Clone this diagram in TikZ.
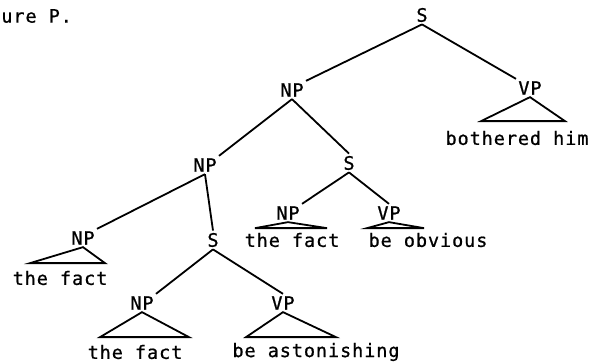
\documentclass[tikz,border=0pt]{standalone}
\usepackage{fontspec}
\usepackage{tikz}
\usetikzlibrary{positioning}
\newfontfamily\treefont{DejaVu Sans Mono}[LetterSpace=5,FakeBold=0.8]

\begin{document}
\begin{tikzpicture}[x=1pt,y=-1pt,line width=1.8pt,
  every node/.style={font=\treefont\fontsize{18.5}{20}\selectfont,inner sep=1.5pt}]

  \useasboundingbox (0,0) rectangle (595,364);

  % Caption
  \node (cap) at (-1,16) [anchor=west] {ure P.};

  % Categories
  \node (s1) at (422,15) {S};
  \node (np1) at (292,90) {NP};
  \node (vp1) at (530,88) {VP};
  \node (np2) at (205,165) {NP};
  \node (s2) at (349,163) {S};
  \node (np3) at (83,238) {NP};
  \node (s3) at (213,240) {S};
  \node (np4) at (288,213) {NP};
  \node (vp4) at (389,213) {VP};
  \node (np5) at (142,303) {NP};
  \node (vp5) at (283,303) {VP};

  % Branches
  \draw (s1.south) -- (np1.north east);
  \draw (s1.south) -- (vp1.north west);
  \draw (np1.south) -- (np2.north east);
  \draw (np1.south) -- (s2.north);
  \draw (np2.south) -- (np3.north east);
  \draw (np2.south) -- (s3.north);
  \draw (s2.south) -- (np4.north east);
  \draw (s2.south) -- (vp4.north);
  \draw (s3.south) -- (np5.north east);
  \draw (s3.south) -- (vp5.north);

  % Triangles
  \draw (vp1.south) -- ++(-49,24) -- ++(84,0) -- cycle;
  \draw (np3.south) -- ++(-53,16) -- ++(75,0) -- cycle;
  \draw (np4.south) -- ++(-33,6) -- ++(72,0) -- cycle;
  \draw (vp4.south) -- ++(-22,6) -- ++(57,0) -- cycle;
  \draw (np5.south) -- ++(-42,25) -- ++(89,0) -- cycle;
  \draw (vp5.south) -- ++(-37,25) -- ++(90,0) -- cycle;

  % Words
  \node (w1) at (517,138) {bothered him};
  \node (w2) at (60,278) {the fact};
  \node (w3) at (292,240) {the fact};
  \node (w4) at (428,240) {be obvious};
  \node (w5) at (135,352) {the fact};
  \node (w6) at (316,352) {be astonishing};
\end{tikzpicture}
\end{document}
